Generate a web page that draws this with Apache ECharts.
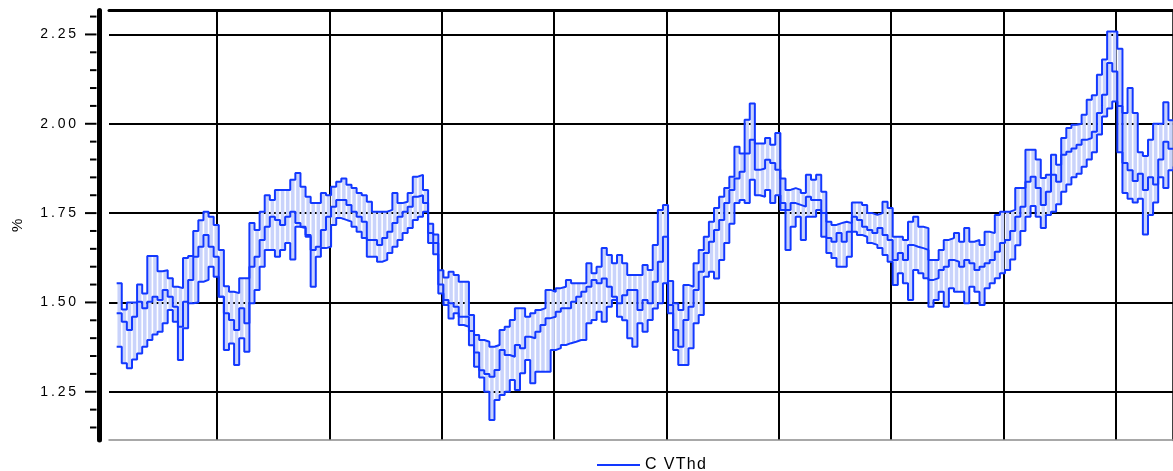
<!DOCTYPE html>
<html>
<head>
<meta charset="utf-8">
<title>C VThd</title>
<script src="https://cdn.jsdelivr.net/npm/echarts@6.0.0/dist/echarts.min.js"></script>
<style>
  html, body { margin: 0; padding: 0; background: #fff; }
  #chart { width: 1173px; height: 471px; }
</style>
</head>
<body>
<div id="chart"></div>
<script>
// C VThd in %, one value per interval (max / avg / min)
const maxValues = [
  1.554, 1.48, 1.5, 1.5, 1.55, 1.525, 1.63, 1.63, 1.587, 1.59,
  1.568, 1.544, 1.54, 1.624, 1.63, 1.7, 1.73, 1.754, 1.74, 1.717,
  1.647, 1.545, 1.53, 1.526, 1.568, 1.568, 1.722, 1.703, 1.754, 1.8,
  1.787, 1.815, 1.815, 1.815, 1.843, 1.862, 1.824, 1.796, 1.778, 1.778,
  1.806, 1.8, 1.824, 1.838, 1.847, 1.829, 1.82, 1.806, 1.8, 1.782,
  1.754, 1.754, 1.754, 1.759, 1.806, 1.778, 1.782, 1.806, 1.852, 1.857,
  1.815, 1.72, 1.69, 1.59, 1.57, 1.586, 1.577, 1.558, 1.558, 1.465,
  1.409, 1.395, 1.39, 1.376, 1.381, 1.423, 1.432, 1.451, 1.484, 1.484,
  1.46, 1.47, 1.479, 1.484, 1.535, 1.53, 1.54, 1.544, 1.563, 1.554,
  1.554, 1.554, 1.61, 1.582, 1.6, 1.652, 1.633, 1.61, 1.633, 1.61,
  1.577, 1.577, 1.577, 1.605, 1.591, 1.661, 1.759, 1.773, 1.56, 1.498,
  1.479, 1.549, 1.544, 1.61, 1.647, 1.684, 1.726, 1.764, 1.796, 1.82,
  1.852, 1.936, 1.917, 2.011, 2.057, 1.945, 1.945, 1.96, 1.941, 1.974,
  1.847, 1.815, 1.82, 1.815, 1.806, 1.857, 1.843, 1.857, 1.81, 1.726,
  1.717, 1.722, 1.726, 1.722, 1.78, 1.78, 1.773, 1.75, 1.745, 1.75,
  1.782, 1.764, 1.684, 1.684, 1.675, 1.726, 1.74, 1.712, 1.708, 1.619,
  1.619, 1.647, 1.675, 1.68, 1.694, 1.67, 1.708, 1.67, 1.675, 1.661,
  1.698, 1.694, 1.745, 1.754, 1.754, 1.759, 1.82, 1.82, 1.927, 1.927,
  1.9, 1.848, 1.857, 1.913, 1.885, 1.96, 1.988, 1.997, 2.0, 2.025,
  2.067, 2.08, 2.137, 2.18, 2.258, 2.258, 2.21, 2.03, 2.1, 2.03,
  1.92, 1.91, 1.955, 2.0, 2.0, 2.06, 2.01, 2.01
]
const avgValues = [
  1.47, 1.446, 1.423, 1.46, 1.502, 1.484, 1.502, 1.516, 1.507, 1.535,
  1.516, 1.488, 1.432, 1.502, 1.563, 1.628, 1.656, 1.689, 1.656, 1.628,
  1.516, 1.47, 1.451, 1.423, 1.484, 1.442, 1.6, 1.628, 1.675, 1.712,
  1.74, 1.731, 1.717, 1.74, 1.754, 1.722, 1.712, 1.689, 1.647, 1.656,
  1.703, 1.74, 1.768, 1.787, 1.787, 1.773, 1.754, 1.74, 1.726, 1.675,
  1.675, 1.661, 1.68, 1.698, 1.722, 1.74, 1.754, 1.768, 1.796, 1.8,
  1.778, 1.694, 1.666, 1.55, 1.507, 1.498, 1.488, 1.46, 1.46, 1.42,
  1.36, 1.31, 1.3, 1.292, 1.311, 1.367, 1.353, 1.348, 1.381, 1.372,
  1.404, 1.4, 1.418, 1.437, 1.456, 1.46, 1.474, 1.484, 1.484, 1.502,
  1.516, 1.53, 1.544, 1.563, 1.554, 1.567, 1.544, 1.516, 1.498, 1.52,
  1.535, 1.535, 1.479, 1.507, 1.498, 1.558, 1.614, 1.684, 1.493, 1.423,
  1.376, 1.451, 1.488, 1.535, 1.586, 1.638, 1.67, 1.703, 1.731, 1.778,
  1.815, 1.847, 1.866, 1.917, 1.955, 1.871, 1.875, 1.899, 1.89, 1.871,
  1.778, 1.759, 1.778, 1.773, 1.768, 1.796, 1.787, 1.787, 1.75, 1.68,
  1.67, 1.694, 1.67, 1.698, 1.74, 1.731, 1.712, 1.703, 1.694, 1.708,
  1.689, 1.675, 1.619, 1.638, 1.619, 1.661, 1.656, 1.652, 1.647, 1.563,
  1.568, 1.591, 1.6, 1.619, 1.614, 1.6, 1.619, 1.61, 1.591, 1.6,
  1.61, 1.619, 1.642, 1.666, 1.675, 1.7, 1.74, 1.768, 1.838, 1.852,
  1.82, 1.773, 1.81, 1.857, 1.838, 1.913, 1.922, 1.931, 1.941, 1.955,
  1.96, 1.978, 2.03, 2.081, 2.17, 2.146, 2.05, 1.89, 1.87, 1.84,
  1.86, 1.815, 1.85, 1.83, 1.9, 1.95, 1.93, 1.93
]
const minValues = [
  1.376, 1.33, 1.316, 1.34, 1.357, 1.376, 1.395, 1.41, 1.418, 1.442,
  1.479, 1.446, 1.339, 1.428, 1.498, 1.5, 1.558, 1.563, 1.6, 1.572,
  1.516, 1.367, 1.385, 1.325, 1.4, 1.362, 1.498, 1.535, 1.6, 1.647,
  1.647, 1.628, 1.647, 1.666, 1.62, 1.712, 1.708, 1.684, 1.544, 1.628,
  1.652, 1.656, 1.717, 1.736, 1.731, 1.726, 1.712, 1.698, 1.68, 1.628,
  1.628, 1.614, 1.619, 1.638, 1.656, 1.675, 1.694, 1.708, 1.731, 1.74,
  1.754, 1.666, 1.635, 1.525, 1.493, 1.455, 1.47, 1.437, 1.432, 1.38,
  1.32, 1.29, 1.25, 1.171, 1.227, 1.241, 1.25, 1.283, 1.255, 1.302,
  1.339, 1.274, 1.306, 1.306, 1.306, 1.367, 1.372, 1.381, 1.386, 1.39,
  1.395, 1.395, 1.442, 1.451, 1.474, 1.446, 1.488, 1.507, 1.46, 1.45,
  1.4, 1.376, 1.442, 1.418, 1.451, 1.483, 1.498, 1.554, 1.47, 1.367,
  1.325, 1.325, 1.372, 1.442, 1.465, 1.572, 1.586, 1.567, 1.619, 1.666,
  1.72, 1.778, 1.787, 1.778, 1.843, 1.8, 1.796, 1.815, 1.778, 1.8,
  1.759, 1.647, 1.712, 1.74, 1.675, 1.74, 1.74, 1.759, 1.684, 1.638,
  1.624, 1.6, 1.6, 1.628, 1.698, 1.689, 1.684, 1.666, 1.661, 1.652,
  1.633, 1.614, 1.549, 1.582, 1.554, 1.507, 1.591, 1.582, 1.568, 1.488,
  1.507, 1.53, 1.488, 1.54, 1.53, 1.53, 1.498, 1.544, 1.53, 1.493,
  1.54, 1.554, 1.568, 1.582, 1.591, 1.62, 1.66, 1.7, 1.74, 1.77,
  1.74, 1.708, 1.745, 1.754, 1.775, 1.81, 1.83, 1.85, 1.86, 1.88,
  1.9, 1.92, 1.97, 2.02, 2.043, 2.062, 1.92, 1.806, 1.79, 1.78,
  1.79, 1.69, 1.745, 1.78, 1.85, 1.82, 1.87, 1.88
]

// axis ticks
const yLabels = [1.25, 1.5, 1.75, 2.0, 2.25]
const yMinorTicks = [1.15, 1.2, 1.3, 1.35, 1.4, 1.45, 1.55, 1.6, 1.65, 1.7,
  1.8, 1.85, 1.9, 1.95, 2.05, 2.1, 2.15, 2.2, 2.3]
// vertical grid lines, in sample index
const xDivisions = [19.7, 41.7, 63.7, 85.7, 107.7, 129.7, 151.7, 173.7, 195.7]

const Y_MIN = 1.115
const Y_MAX = 2.317
const X_MIN = -1.5
const X_MAX = 206.9

const LINE_BLUE = '#1238ff'
const FONT = '"Liberation Sans", Arial, sans-serif'

// step lines need one extra point to close the last step
function stepData (values) {
  const pts = values.map((v, i) => [i, v])
  pts.push([values.length, values[values.length - 1]])
  return pts
}

const bandData = minValues.map((v, i) => [i, v, maxValues[i]])

// y axis tick marks, drawn left of the thick axis line
function tickSeries (values, len) {
  return {
    type: 'custom',
    silent: true,
    clip: false,
    z: 6,
    data: values.map(v => [X_MIN, v]),
    renderItem (params, api) {
      const p = api.coord([api.value(0), api.value(1)])
      const right = p[0] - 12.5
      return {
        type: 'line',
        shape: { x1: right - len, y1: p[1], x2: right, y2: p[1] },
        style: { stroke: '#000', lineWidth: 2 }
      }
    }
  }
}

const chart = echarts.init(document.getElementById('chart'), null, { renderer: 'canvas' })

const option = {
  animation: false,
  backgroundColor: '#fff',
  grid: {
    left: 109,
    right: 0,
    top: 10.5,
    bottom: 31,
    outerBoundsMode: 'none'
  },
  legend: {
    left: 592,
    top: 452,
    itemWidth: 43,
    itemHeight: 2,
    data: [{ name: 'C VThd', icon: 'rect' }],
    formatter: name => name.split('').join('\u200A'),
    textStyle: { fontFamily: FONT, fontSize: 16, color: '#000' }
  },
  xAxis: [
    {
      type: 'value',
      min: X_MIN,
      max: X_MAX,
      axisLine: { onZero: false, lineStyle: { color: '#8c8c8c', width: 1.5 } },
      axisTick: { show: false, customValues: xDivisions },
      axisLabel: { show: false },
      splitLine: { show: true, lineStyle: { color: '#000', width: 2 } }
    },
    {
      type: 'value',
      position: 'top',
      min: X_MIN,
      max: X_MAX,
      axisLine: { onZero: false, lineStyle: { color: '#000', width: 3 } },
      axisTick: { show: false },
      axisLabel: { show: false },
      splitLine: { show: false }
    }
  ],
  yAxis: [
    {
      type: 'value',
      min: Y_MIN,
      max: Y_MAX,
      offset: 10,
      name: '%',
      nameLocation: 'middle',
      nameGap: 74,
      nameRotate: 90,
      nameTextStyle: { fontFamily: FONT, fontSize: 15, color: '#000' },
      axisLine: { show: true, onZero: false, lineStyle: { color: '#000', width: 5 } },
      axisTick: { show: false, customValues: yLabels },
      axisLabel: {
        customValues: yLabels,
        margin: 23,
        fontFamily: FONT,
        fontSize: 14,
        color: '#000',
        formatter: v => v.toFixed(2).split('').join('\u2009')
      },
      splitLine: { show: true, lineStyle: { color: '#000', width: 2 } }
    },
    {
      // plot frame left edge
      type: 'value',
      min: Y_MIN,
      max: Y_MAX,
      axisLine: { show: true, onZero: false, lineStyle: { color: '#000', width: 2.5 } },
      axisTick: { show: false },
      axisLabel: { show: false },
      splitLine: { show: false }
    }
  ],
  series: [
    {
      name: 'range',
      type: 'custom',
      z: 3,
      clip: true,
      silent: true,
      encode: { x: 0, y: [1, 2] },
      data: bandData,
      renderItem (params, api) {
        const i = api.value(0)
        const lo = api.coord([i, api.value(1)])
        const hi = api.coord([i + 1, api.value(2)])
        return {
          type: 'rect',
          shape: { x: lo[0] + 0.8, y: hi[1], width: hi[0] - lo[0] - 1.6, height: lo[1] - hi[1] },
          style: { fill: '#c9d3fb' }
        }
      }
    },
    {
      name: 'C VThd',
      type: 'line',
      step: 'end',
      z: 5,
      showSymbol: false,
      color: LINE_BLUE,
      lineStyle: { color: LINE_BLUE, width: 2 },
      data: stepData(maxValues)
    },
    {
      name: 'C VThd',
      type: 'line',
      step: 'end',
      z: 5,
      showSymbol: false,
      color: LINE_BLUE,
      lineStyle: { color: LINE_BLUE, width: 2 },
      data: stepData(avgValues)
    },
    {
      name: 'C VThd',
      type: 'line',
      step: 'end',
      z: 5,
      showSymbol: false,
      color: LINE_BLUE,
      lineStyle: { color: LINE_BLUE, width: 2 },
      data: stepData(minValues)
    },
    tickSeries(yLabels, 11.5),
    tickSeries(yMinorTicks, 6.5)
  ]
}

chart.setOption(option)
</script>
</body>
</html>
